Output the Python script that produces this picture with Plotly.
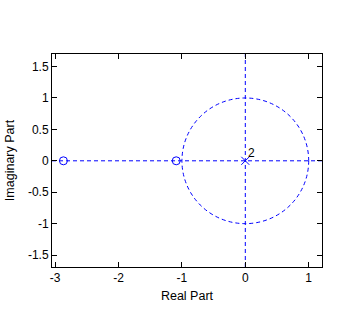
import plotly.graph_objects as go

# Data
zeros_re = [-2.87, -1.09]
zeros_im = [0.0, 0.0]
poles_re = [0.0]
poles_im = [0.0]
pole_multiplicity = "2"
x_ticks = [-3, -2, -1, 0, 1]
y_ticks = [-1.5, -1, -0.5, 0, 0.5, 1, 1.5]
x_range = [-3.05, 1.21]
y_range = [-1.69, 1.70]

blue = "rgb(0,0,255)"
dash = "4px,3px"
font = dict(family="Liberation Sans, Arial, sans-serif", size=12, color="black")
title_font = dict(family="Liberation Sans, Arial, sans-serif", size=12.5, color="black")

fig = go.Figure()

# unit circle and axis lines as shapes
fig.add_shape(type="circle", xref="x", yref="y", x0=-1, y0=-1, x1=1, y1=1,
              line=dict(color=blue, width=1, dash=dash), layer="below")
fig.add_shape(type="line", xref="paper", yref="y", x0=0, x1=1, y0=0, y1=0,
              line=dict(color=blue, width=1, dash=dash), layer="below")
fig.add_shape(type="line", xref="x", yref="paper", x0=0, x1=0, y0=0, y1=1,
              line=dict(color=blue, width=1, dash=dash), layer="below")

fig.add_trace(go.Scatter(x=zeros_re, y=zeros_im, mode="markers",
                         marker=dict(symbol="circle-open", size=8, color=blue,
                                     line=dict(width=1, color=blue)),
                         showlegend=False))
fig.add_trace(go.Scatter(x=poles_re, y=poles_im, mode="markers",
                         marker=dict(symbol="x-thin-open", size=8, color=blue,
                                     line=dict(width=1, color=blue)),
                         showlegend=False))

fig.add_annotation(x=poles_re[0], y=poles_im[0], text=pole_multiplicity,
                   showarrow=False, xanchor="left", yanchor="bottom",
                   xshift=1, yshift=-1, font=font)

axis_common = dict(showgrid=False, zeroline=False, showline=True,
                   linecolor="black", linewidth=1, mirror="ticks",
                   ticks="inside", ticklen=5, tickcolor="black",
                   tickfont=font, automargin=False)

fig.update_xaxes(range=x_range, tickvals=x_ticks,
                 ticktext=[str(v) for v in x_ticks],
                 title=dict(text="Real Part", font=title_font, standoff=6),
                 **axis_common)
fig.update_yaxes(range=y_range, tickvals=y_ticks,
                 ticktext=[("%g" % v) for v in y_ticks],
                 title=dict(text="Imaginary Part", font=title_font, standoff=10),
                 **axis_common)

fig.update_layout(width=355, height=334,
                  margin=dict(l=52, r=33, t=54, b=67, pad=0),
                  paper_bgcolor="white", plot_bgcolor="white",
                  font=font)

fig.write_html("out.html")
